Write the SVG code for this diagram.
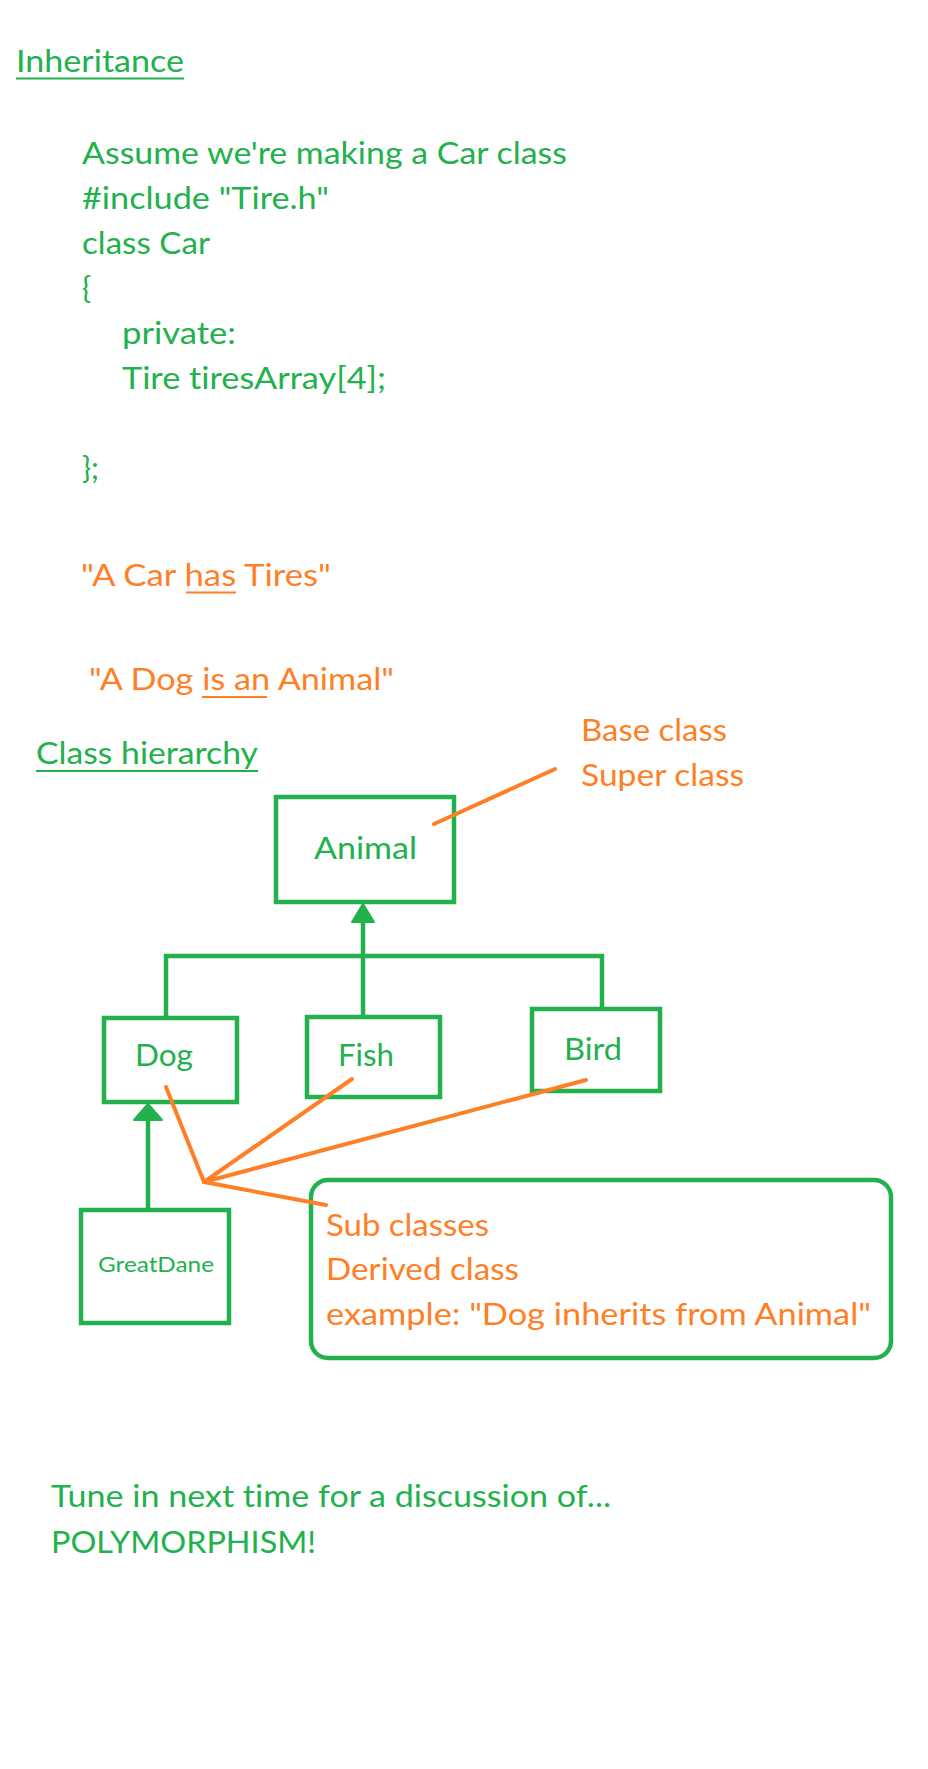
<svg xmlns="http://www.w3.org/2000/svg" width="928" height="1769" viewBox="0 0 928 1769">
<style>
text{font-family:Lato,"Open Sans","Liberation Sans",sans-serif;font-size:30px;font-variant-ligatures:none}
.g{fill:#22B14C}
.o{fill:#FF7F27}
.box{fill:#fff;stroke:#22B14C;stroke-width:4.5}
.gl{stroke:#22B14C;stroke-width:4.5;fill:none}
.ol{stroke:#FF7F27;stroke-width:4;fill:none;stroke-linecap:round}
.ug{stroke:#22B14C;stroke-width:2.2}
.uo{stroke:#FF7F27;stroke-width:2.2}
</style>
<rect width="928" height="1769" fill="#fff"/>
<g id="heading">
<text class="g" x="16" y="72" textLength="168" lengthAdjust="spacingAndGlyphs">Inheritance</text>
<line class="ug" x1="16" y1="78.5" x2="184" y2="78.5"/>
</g>
<g id="code">
<text class="g" x="82" y="164" textLength="485" lengthAdjust="spacingAndGlyphs">Assume we're making a Car class</text>
<text class="g" x="82" y="209" textLength="247" lengthAdjust="spacingAndGlyphs">#include "Tire.h"</text>
<text class="g" x="82" y="254" textLength="128" lengthAdjust="spacingAndGlyphs">class Car</text>
<text class="g" x="82" y="299">{</text>
<text class="g" x="122" y="344" textLength="114" lengthAdjust="spacingAndGlyphs">private:</text>
<text class="g" x="122" y="389" textLength="264" lengthAdjust="spacingAndGlyphs">Tire tiresArray[4];</text>
<text class="g" x="82" y="479">};</text>
</g>
<g id="has-a">
<text class="o" x="81" y="586" textLength="250" lengthAdjust="spacingAndGlyphs">"A Car has Tires"</text>
<line class="uo" x1="186" y1="592.5" x2="236" y2="592.5"/>
</g>
<g id="is-a">
<text class="o" x="89" y="690" textLength="305" lengthAdjust="spacingAndGlyphs">"A Dog is an Animal"</text>
<line class="uo" x1="202" y1="697" x2="267" y2="697"/>
</g>
<g id="class-hierarchy-title">
<text class="g" x="36" y="764" textLength="222" lengthAdjust="spacingAndGlyphs">Class hierarchy</text>
<line class="ug" x1="36" y1="771" x2="258" y2="771"/>
</g>
<g id="base-class-label">
<text class="o" x="581" y="741" textLength="146" lengthAdjust="spacingAndGlyphs">Base class</text>
<text class="o" x="581" y="786" textLength="163" lengthAdjust="spacingAndGlyphs">Super class</text>
</g>
<g id="connectors">
<line class="gl" x1="363" y1="918" x2="363" y2="1017"/>
<polygon points="363,904 352,922 374,922" fill="#22B14C" stroke="#22B14C" stroke-width="2" stroke-linejoin="round"/>
<polyline class="gl" points="166,1018 166,956 602,956 602,1009"/>
<line class="gl" x1="148" y1="1115" x2="148" y2="1210"/>
<polygon points="148,1104 134,1120 162,1120" fill="#22B14C" stroke="#22B14C" stroke-width="2" stroke-linejoin="round"/>
</g>
<g id="animal">
<rect class="box" x="276" y="797" width="178" height="105"/>
<text class="g" x="314" y="859" textLength="103" lengthAdjust="spacingAndGlyphs">Animal</text>
</g>
<g id="dog">
<rect class="box" x="104" y="1018" width="133" height="84"/>
<text class="g" x="135" y="1066" textLength="58" lengthAdjust="spacingAndGlyphs">Dog</text>
</g>
<g id="fish">
<rect class="box" x="307" y="1017" width="133" height="80"/>
<text class="g" x="338" y="1066" textLength="56" lengthAdjust="spacingAndGlyphs">Fish</text>
</g>
<g id="bird">
<rect class="box" x="532" y="1009" width="128" height="82"/>
<text class="g" x="564" y="1060" textLength="58" lengthAdjust="spacingAndGlyphs">Bird</text>
</g>
<g id="greatdane">
<rect class="box" x="81" y="1210" width="148" height="113"/>
<text class="g" x="98" y="1272" style="font-size:22px" textLength="116" lengthAdjust="spacingAndGlyphs">GreatDane</text>
</g>
<g id="subclass-note">
<rect class="box" x="311" y="1180" width="580" height="178" rx="17" ry="17" style="fill:none"/>
<text class="o" x="326" y="1236" textLength="163" lengthAdjust="spacingAndGlyphs">Sub classes</text>
<text class="o" x="326" y="1280" textLength="193" lengthAdjust="spacingAndGlyphs">Derived class</text>
<text class="o" x="326" y="1325" textLength="545" lengthAdjust="spacingAndGlyphs">example: "Dog inherits from Animal"</text>
</g>
<g id="annotation-connectors">
<line class="ol" x1="434" y1="824" x2="555" y2="769"/>
<line class="ol" x1="166" y1="1087" x2="204" y2="1182"/>
<line class="ol" x1="352" y1="1079" x2="204" y2="1182"/>
<line class="ol" x1="586" y1="1080" x2="204" y2="1182"/>
<line class="ol" x1="204" y1="1182" x2="326" y2="1205"/>
</g>
<g id="closing">
<text class="g" x="51" y="1507" textLength="560" lengthAdjust="spacingAndGlyphs">Tune in next time for a discussion of...</text>
<text class="g" x="51" y="1553" textLength="265" lengthAdjust="spacingAndGlyphs">POLYMORPHISM!</text>
</g>
</svg>
